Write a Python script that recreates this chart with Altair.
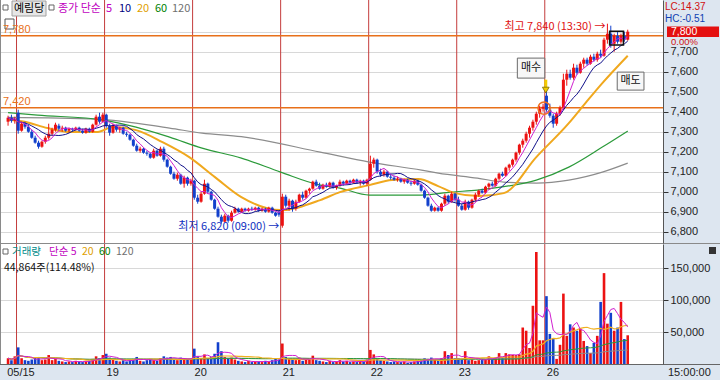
import altair as alt
import pandas as pd

FONT = "Noto Sans CJK KR"
NUMFONT = "Liberation Sans"
RED = "#ec1212"
BLUE = "#1240cc"
GRID = "#d8d8d8"
AXBG = "#dde6f0"

# ---------------- data ----------------
day_labels = ["05/15", "19", "20", "21", "22", "23", "26"]
label_idx = [-0.85, 28.5, 54.5, 80.5, 106.5, 132.5, 158.5]
day_break_idx = [2.5, 28.5, 54.5, 80.5, 106.5, 132.5, 158.5]

opens = [
    7350, 7370, 7355,
    7395, 7305, 7340, 7325, 7300, 7270, 7245, 7225, 7250, 7270, 7290, 7310, 7330,
    7315, 7320, 7305, 7315, 7310, 7320, 7305, 7295, 7315, 7300, 7335, 7375, 7350,
    7385, 7330, 7295, 7330, 7310, 7320, 7290, 7285, 7260, 7230, 7205, 7215, 7195,
    7190, 7170, 7205, 7180, 7215, 7160, 7125, 7090, 7065, 7085, 7040, 7070, 7040,
    7055, 6970, 6950, 6990, 7040, 7000, 6960, 6915, 6875, 6850, 6880, 6855, 6895,
    6915, 6900, 6915, 6905, 6915, 6910, 6920, 6905, 6915, 6900, 6920, 6895, 6900,
    6830, 6975, 6930, 6955, 6915, 6950, 6985, 6970, 7005, 7015, 7050, 7030, 7015,
    7035, 7025, 7045, 7020, 7030, 7050, 7040, 7055, 7045, 7060, 7045, 7055, 7040,
    7060, 7140, 7160, 7100, 7085, 7100, 7075, 7070, 7060, 7065, 7050, 7060, 7045,
    7040, 7055, 7035, 7005, 6970, 6930, 6905, 6920, 6905, 6940, 6980, 6950, 6990,
    6960, 6930, 6910, 6950, 6920, 6960, 6985, 7005, 6995, 7025, 7040, 7030, 7065,
    7090, 7080, 7120, 7135, 7160, 7195, 7235, 7255, 7290, 7320, 7350, 7390, 7415,
    7480, 7410, 7380, 7340, 7390, 7420, 7560, 7590, 7570, 7620, 7595, 7640, 7660,
    7640, 7675, 7660, 7690, 7680, 7760, 7790, 7740, 7780, 7750, 7780, 7760,
]
highs = [
    7380, 7385, 7375,
    7410, 7350, 7350, 7335, 7310, 7280, 7255, 7255, 7280, 7340, 7320, 7345, 7340,
    7330, 7325, 7320, 7320, 7325, 7325, 7315, 7320, 7320, 7340, 7385, 7395, 7395,
    7390, 7340, 7340, 7335, 7325, 7325, 7300, 7290, 7265, 7240, 7225, 7220, 7205,
    7195, 7215, 7210, 7225, 7225, 7165, 7130, 7100, 7095, 7090, 7080, 7075, 7065,
    7060, 6985, 7000, 7060, 7045, 7005, 6965, 6925, 6885, 6890, 6885, 6905, 6925,
    6920, 6920, 6920, 6920, 6925, 6925, 6925, 6920, 6920, 6925, 6925, 6900, 6905,
    6990, 6985, 6965, 6960, 6960, 6990, 7000, 7010, 7020, 7055, 7060, 7045, 7040,
    7045, 7050, 7050, 7035, 7060, 7055, 7060, 7060, 7065, 7065, 7060, 7060, 7065,
    7180, 7170, 7165, 7115, 7110, 7105, 7090, 7080, 7075, 7070, 7065, 7065, 7055,
    7060, 7060, 7040, 7010, 6975, 6940, 6925, 6925, 6945, 6990, 6985, 7000, 6995,
    6975, 6940, 6960, 6955, 6965, 6995, 7010, 7015, 7030, 7045, 7050, 7070, 7095,
    7100, 7125, 7140, 7165, 7200, 7240, 7265, 7300, 7330, 7360, 7400, 7430, 7440,
    7520, 7440, 7390, 7400, 7430, 7590, 7610, 7610, 7640, 7635, 7650, 7670, 7670,
    7685, 7690, 7700, 7710, 7770, 7840, 7830, 7790, 7800, 7790, 7800, 7810,
]
lows = [
    7330, 7345, 7340,
    7290, 7300, 7315, 7295, 7265, 7240, 7215, 7220, 7240, 7260, 7280, 7300, 7305,
    7300, 7300, 7295, 7300, 7305, 7300, 7290, 7290, 7295, 7295, 7330, 7340, 7345,
    7320, 7280, 7290, 7300, 7295, 7285, 7275, 7255, 7225, 7200, 7195, 7190, 7180,
    7165, 7165, 7175, 7175, 7150, 7120, 7085, 7060, 7055, 7035, 7020, 7030, 7030,
    6960, 6940, 6945, 6985, 6990, 6955, 6910, 6870, 6840, 6845, 6845, 6850, 6890,
    6895, 6895, 6900, 6900, 6905, 6905, 6900, 6900, 6895, 6895, 6890, 6875, 6875,
    6820, 6920, 6905, 6900, 6905, 6945, 6960, 6965, 6990, 7010, 7025, 7010, 7010,
    7020, 7020, 7015, 7010, 7025, 7030, 7035, 7035, 7040, 7040, 7030, 7035, 7030,
    7055, 7120, 7090, 7075, 7075, 7070, 7060, 7055, 7050, 7045, 7040, 7040, 7030,
    7035, 7030, 7000, 6965, 6925, 6900, 6900, 6900, 6900, 6930, 6940, 6945, 6950,
    6925, 6905, 6905, 6910, 6915, 6950, 6975, 6990, 6990, 7010, 7025, 7025, 7055,
    7075, 7075, 7105, 7125, 7150, 7185, 7220, 7245, 7270, 7305, 7335, 7370, 7400,
    7400, 7370, 7320, 7330, 7380, 7410, 7530, 7560, 7560, 7585, 7590, 7620, 7630,
    7635, 7650, 7650, 7670, 7675, 7740, 7720, 7700, 7740, 7740, 7750, 7755,
]
closes = [
    7370, 7355, 7365,
    7305, 7340, 7325, 7300, 7270, 7245, 7225, 7250, 7270, 7290, 7310, 7335, 7315,
    7320, 7305, 7315, 7310, 7320, 7305, 7295, 7315, 7300, 7335, 7375, 7350, 7385,
    7330, 7295, 7330, 7310, 7320, 7290, 7285, 7260, 7230, 7205, 7215, 7195, 7190,
    7170, 7205, 7180, 7215, 7160, 7125, 7090, 7065, 7085, 7040, 7070, 7040, 7055,
    6970, 6950, 6990, 7040, 7000, 6960, 6915, 6875, 6850, 6880, 6855, 6895, 6915,
    6900, 6915, 6905, 6915, 6910, 6920, 6905, 6915, 6900, 6920, 6895, 6880, 6885,
    6975, 6930, 6955, 6915, 6950, 6985, 6970, 7005, 7015, 7050, 7030, 7015, 7035,
    7025, 7045, 7020, 7030, 7050, 7040, 7055, 7045, 7060, 7045, 7055, 7040, 7060,
    7140, 7160, 7100, 7085, 7100, 7075, 7070, 7060, 7065, 7050, 7060, 7045, 7040,
    7055, 7035, 7005, 6970, 6930, 6905, 6920, 6905, 6940, 6980, 6950, 6990, 6960,
    6930, 6910, 6950, 6920, 6960, 6985, 7005, 6995, 7025, 7040, 7030, 7065, 7090,
    7080, 7120, 7135, 7160, 7195, 7235, 7255, 7290, 7320, 7350, 7390, 7415, 7425,
    7410, 7380, 7340, 7390, 7420, 7560, 7590, 7570, 7620, 7595, 7640, 7660, 7640,
    7675, 7660, 7690, 7680, 7760, 7790, 7740, 7780, 7750, 7780, 7760, 7800,
]
volumes = [
    9000, 6000, 12000,
    26000, 9000, 6000, 5000, 7000, 10000, 11000, 6000, 7000, 14000, 6000, 8000, 5000,
    4000, 3000, 4000, 3000, 5000, 4000, 3000, 4000, 5000, 8000, 12000, 9000, 14000,
    16000, 10000, 7000, 5000, 4000, 6000, 4000, 7000, 8000, 11000, 5000, 4000, 6000,
    8000, 6000, 5000, 9000, 12000, 10000, 11000, 7000, 6000, 10000, 9000, 8000, 7000,
    24000, 12000, 9000, 15000, 9000, 11000, 16000, 34000, 20000, 11000, 9000, 10000, 7000,
    5000, 4000, 3000, 5000, 3000, 4000, 4000, 3000, 5000, 4000, 6000, 8000, 7000,
    32000, 11000, 9000, 8000, 6000, 10000, 5000, 9000, 7000, 13000, 6000, 5000, 4000,
    3000, 5000, 3000, 4000, 6000, 4000, 5000, 3000, 4000, 3000, 5000, 4000, 7000,
    22000, 15000, 9000, 6000, 5000, 4000, 3000, 4000, 3000, 3000, 4000, 2000, 3000,
    4000, 5000, 6000, 9000, 8000, 10000, 7000, 6000, 9000, 20000, 14000, 17000, 9000,
    9000, 8000, 20000, 6000, 7000, 5000, 6000, 8000, 7000, 12000, 8000, 10000, 17000,
    10000, 17000, 15000, 14000, 14000, 15000, 57000, 52000, 25000, 91000, 175000, 37000, 37000,
    106000, 47000, 39000, 8000, 30000, 110000, 44000, 62000, 57000, 52000, 55000, 36000, 28000,
    17000, 33000, 44000, 97000, 142000, 63000, 80000, 52000, 57000, 97000, 39000, 44864,
]

# moving-average lines (bar index, price)
ma20_idx = [0, 4.9, 11.6, 18.6, 26.1, 31.1, 37.8, 45.6, 53.5, 61.1, 68.9, 80.5, 92.2, 98, 106.7,
            113.4, 121.2, 127, 131.9, 139.1, 146.4, 156, 165.6, 170.5, 175.5, 183]
ma20_val = [7360, 7350, 7318, 7298, 7298, 7323, 7308, 7248, 7173, 7073, 6973, 6908, 6958, 6998, 7033,
            7058, 7063, 7028, 6993, 6978, 6993, 7173, 7343, 7443, 7543, 7680]
ma60_idx = [0, 8.7, 28.2, 37.8, 47.7, 57.3, 68.9, 80.5, 92.2, 98, 106.7, 122.1, 130.8, 138.6,
            146.4, 156, 165.6, 175.5, 183]
ma60_val = [7395, 7383, 7358, 7323, 7273, 7218, 7168, 7098, 7033, 7018, 6983, 6983, 6998, 7008,
            7025, 7058, 7123, 7223, 7303]
ma120_idx = [0, 26.1, 47.7, 57.3, 68.9, 92.2, 106.7, 122.1, 127, 138.6, 146.4, 156, 165.6, 175.5, 183]
ma120_val = [7372, 7363, 7318, 7293, 7275, 7198, 7148, 7108, 7093, 7068, 7048, 7043, 7058, 7098, 7143]

ref_levels = [7780, 7420]
price_labels = [6800, 6900, 7000, 7100, 7200, 7300, 7400, 7500, 7600, 7700]
price_grid = price_labels + [7800]
vol_labels = [50000, 100000, 150000]

# ---------------- frames ----------------
n = len(closes)
direction = ["up" if c >= o else "down" for o, c in zip(opens, closes)]
candles = pd.DataFrame({"i": list(range(n)), "open": opens, "high": highs, "low": lows,
                        "close": closes, "vol": volumes, "dir": direction})
one = pd.DataFrame({"a": [0]})

xs = alt.Scale(domain=[-0.903, 191.94], nice=False, zero=False)
ps = alt.Scale(domain=[6743.5, 7958.5], range=[243, 0], nice=False, zero=False)
vs = alt.Scale(domain=[0, 187500], range=[364, 244], nice=False, zero=False)
cscale = alt.Scale(domain=["up", "down"], range=[RED, BLUE])

X = alt.X("i:Q", scale=xs, axis=None)


def rect_px(x1, x2, y1, y2, fill, stroke=None, sw=1.0):
    kw = {"fill": fill}
    if stroke:
        kw.update(stroke=stroke, strokeWidth=sw)
    return alt.Chart(one).mark_rect(**kw).encode(
        x=alt.value(x1), x2=alt.value(x2), y=alt.value(y1), y2=alt.value(y2))


def rule_px(x1, x2, y1, y2, color, sw=1.0):
    return alt.Chart(one).mark_rule(color=color, strokeWidth=sw).encode(
        x=alt.value(x1), x2=alt.value(x2), y=alt.value(y1), y2=alt.value(y2))


def text_px(s, x, y, color, size=11, align="left", font=FONT):
    return alt.Chart(one).mark_text(text=s, color=color, fontSize=size, font=font,
                                    align=align, baseline="middle").encode(
        x=alt.value(x), y=alt.value(y))


def sampled_line(idx, vals, color, width):
    df = pd.DataFrame({"i": idx, "v": vals})
    return alt.Chart(df).mark_line(color=color, strokeWidth=width, interpolate="monotone").encode(
        x=X, y=alt.Y("v:Q", scale=ps, axis=None))


def window_line(field, frame, color, width, scale):
    return alt.Chart(candles).transform_window(
        m=f"mean({field})", frame=[-(frame - 1), 0], sort=[alt.SortField("i")]
    ).mark_line(color=color, strokeWidth=width).encode(x=X, y=alt.Y("m:Q", scale=scale, axis=None))


layers = []
# backgrounds
layers.append(rect_px(663, 720, 0, 364, AXBG))
layers.append(rect_px(0, 720, 364, 380, AXBG))

# grids
layers.append(alt.Chart(one).mark_point(opacity=0).encode(
    y=alt.Y("a:Q", scale=ps, axis=alt.Axis(orient="right", values=price_grid, grid=True, gridColor=GRID,
                                           labels=False, ticks=False, domain=False, title=None, zindex=0))))
layers.append(alt.Chart(one).mark_point(opacity=0).encode(
    y=alt.Y("a:Q", scale=vs, axis=alt.Axis(orient="right", values=vol_labels, grid=True, gridColor=GRID,
                                           labels=False, ticks=False, domain=False, title=None, zindex=0))))

# day separators
layers.append(alt.Chart(pd.DataFrame({"i": day_break_idx})).mark_rule(color="#c43c3c", strokeWidth=1).encode(
    x=X, y=alt.value(0), y2=alt.value(364)))

# reference levels
layers.append(alt.Chart(pd.DataFrame({"v": ref_levels})).mark_rule(color="#e8701a", strokeWidth=1.5).encode(
    y=alt.Y("v:Q", scale=ps, axis=None), x=alt.value(0), x2=alt.value(663)))

# long moving averages
layers.append(sampled_line(ma120_idx, ma120_val, "#8c8c8c", 1.2))
layers.append(sampled_line(ma60_idx, ma60_val, "#2b9a3a", 1.2))
layers.append(sampled_line(ma20_idx, ma20_val, "#f0a81e", 2))

# candles
layers.append(alt.Chart(candles).mark_rule(strokeWidth=1).encode(
    x=X, y=alt.Y("low:Q", scale=ps, axis=None), y2="high:Q",
    color=alt.Color("dir:N", scale=cscale, legend=None)))
layers.append(alt.Chart(candles).mark_bar(size=3).encode(
    x=X, y=alt.Y("open:Q", scale=ps, axis=None), y2="close:Q",
    color=alt.Color("dir:N", scale=cscale, legend=None)))

# short moving averages
layers.append(window_line("close", 10, "#10108a", 1, ps))
layers.append(window_line("close", 5, "#d020d0", 1, ps))

# volume
layers.append(alt.Chart(candles).mark_bar(size=2.6).encode(
    x=X, y=alt.Y("vol:Q", scale=vs, axis=None),
    color=alt.Color("dir:N", scale=cscale, legend=None)))
layers.append(window_line("vol", 120, "#8c8c8c", 1, vs))
layers.append(window_line("vol", 60, "#2b9a3a", 1, vs))
layers.append(window_line("vol", 20, "#f0b020", 1.2, vs))
layers.append(window_line("vol", 5, "#d020d0", 1, vs))

# frame lines
layers.append(rule_px(0, 720, 243.5, 243.5, "#8a8a8a"))
layers.append(rule_px(0.5, 0.5, 0, 364, "#8a8a8a"))
layers.append(rule_px(0, 720, 364.5, 364.5, "#666666"))

# axes with labels
fmt = "format(datum.value, ',')"
layers.append(alt.Chart(one).mark_point(opacity=0).encode(
    y=alt.Y("a:Q", scale=ps, axis=alt.Axis(orient="right", values=price_labels, labelExpr=fmt, grid=False,
                                           tickSize=5, tickColor="#333", domainColor="#555",
                                           labelFont=NUMFONT, labelFontSize=11, labelColor="#222",
                                           labelPadding=2, title=None, zindex=2))))
layers.append(alt.Chart(one).mark_point(opacity=0).encode(
    y=alt.Y("a:Q", scale=vs, axis=alt.Axis(orient="right", values=vol_labels, labelExpr=fmt, grid=False,
                                           tickSize=5, tickColor="#333", domainColor="#555",
                                           labelFont=NUMFONT, labelFontSize=11, labelColor="#222",
                                           labelPadding=2, title=None, zindex=2))))
# date labels along the bottom strip
layers.append(alt.Chart(pd.DataFrame({"i": label_idx, "t": day_labels})).mark_text(
    fontSize=11, font=NUMFONT, color="#222", align="left", baseline="middle", dx=2).encode(
    x=X, y=alt.value(372.5), text="t:N"))
layers.append(text_px("15:00:00", 668, 372.5, "#222", font=NUMFONT))

# header (price panel)
layers.append(rect_px(3, 8, 5, 10, "#ffffff", "#666"))
layers.append(rect_px(12, 46, 1, 16, "#e6e6e6", "#a0a0a0"))
layers.append(text_px("예림당", 14, 8.5, "#000000"))
layers.append(rect_px(49, 54, 5, 10, "#ffffff", "#666"))
for s, x, c in [("종가 단순", 58, "#c000c0"), ("5", 106, "#c000c0"), ("10", 119, "#000080"),
                ("20", 137, "#e0a000"), ("60", 155, "#008000"), ("120", 172, "#707070")]:
    layers.append(text_px(s, x, 8.5, c))
layers.append(rect_px(5, 14, 19, 29, "#ffffff", "#555"))

# reference level labels
for v in ref_levels:
    layers.append(alt.Chart(pd.DataFrame({"v": [v], "t": [f"{v:,}"]})).mark_text(
        color="#e8701a", fontSize=11, font=NUMFONT, align="left", baseline="bottom", dy=-1).encode(
        x=alt.value(3), y=alt.Y("v:Q", scale=ps, axis=None), text="t:N"))

# volume header
layers.append(rect_px(3, 8, 249, 254, "#ffffff", "#666"))
for s, x, c in [("거래량", 12, "#008b8b"), ("단순 5", 49, "#c000c0"), ("20", 82, "#e0a000"),
                ("60", 99, "#008000"), ("120", 116, "#707070")]:
    layers.append(text_px(s, x, 252, c, size=10.5))
layers.append(text_px("44,864주(114.48%)", 4, 268, "#111", size=10.5))

# right axis texts
layers.append(text_px("LC:14.37", 665, 7, "#d01010", size=10, font=NUMFONT))
layers.append(text_px("HC:-0.51", 665, 18.5, "#1040b0", size=10, font=NUMFONT))
last = pd.DataFrame({"i": [n - 1], "v": [closes[-1]], "t": [f"{closes[-1]:,}"], "hi": [closes[-1] + 26],
                     "lo": [closes[-1] - 26]})
layers.append(alt.Chart(last).mark_rect(fill="#e41010").encode(
    x=alt.value(667), x2=alt.value(719), y=alt.Y("hi:Q", scale=ps, axis=None), y2="lo:Q"))
layers.append(alt.Chart(last).mark_text(color="white", fontSize=10.5, font=NUMFONT, align="left",
                                        baseline="middle").encode(
    x=alt.value(671), y=alt.Y("v:Q", scale=ps, axis=None), text="t:N"))
layers.append(alt.Chart(last).mark_text(text="0.00%", color="#d01010", fontSize=9.5, font=NUMFONT,
                                        align="left", baseline="middle", dy=10.5).encode(
    x=alt.value(671), y=alt.Y("v:Q", scale=ps, axis=None)))
layers.append(rect_px(709, 716, 247, 254, "#333"))

# annotations: high / low
hi_i = max(range(n), key=lambda k: highs[k])
lo_i = min(range(n), key=lambda k: lows[k])
hl = pd.DataFrame({"i": [hi_i], "v": [highs[hi_i]], "t": [f"최고 {highs[hi_i]:,} (13:30) →"]})
layers.append(alt.Chart(hl).mark_text(color="#e01010", fontSize=11, font=FONT, align="right",
                                      baseline="middle", dx=-2, dy=3).encode(
    x=X, y=alt.Y("v:Q", scale=ps, axis=None), text="t:N"))
ll = pd.DataFrame({"i": [lo_i], "v": [lows[lo_i]], "t": [f"최저 {lows[lo_i]:,} (09:00) →"]})
layers.append(alt.Chart(ll).mark_text(color="#1030c0", fontSize=11, font=FONT, align="right",
                                      baseline="middle", dx=-3, dy=-1).encode(
    x=X, y=alt.Y("v:Q", scale=ps, axis=None), text="t:N"))

# buy / sell signal annotations
buy_box = pd.DataFrame({"x1": [150.4], "x2": [158.5], "y1": [7668], "y2": [7568]})
layers.append(alt.Chart(buy_box).mark_rect(fill="#f7f7f7", stroke="#6a6a6a", strokeWidth=1).encode(
    x=alt.X("x1:Q", scale=xs, axis=None), x2="x2:Q", y=alt.Y("y1:Q", scale=ps, axis=None), y2="y2:Q"))
layers.append(alt.Chart(pd.DataFrame({"i": [154.45], "v": [7618]})).mark_text(
    text="매수", fontSize=11, font=FONT, color="#111", baseline="middle").encode(
    x=X, y=alt.Y("v:Q", scale=ps, axis=None)))
arrow = pd.DataFrame({"i": [158.8], "v1": [7560], "v2": [7520]})
layers.append(alt.Chart(arrow).mark_rule(color="#f2cc00", strokeWidth=3).encode(
    x=X, y=alt.Y("v1:Q", scale=ps, axis=None), y2="v2:Q"))
layers.append(alt.Chart(pd.DataFrame({"i": [158.8], "v": [7508]})).mark_point(
    shape="triangle-down", size=45, filled=True, fill="#f2cc00", stroke="#7a6a00", strokeWidth=0.8,
    opacity=1).encode(x=X, y=alt.Y("v:Q", scale=ps, axis=None)))
layers.append(alt.Chart(pd.DataFrame({"i": [158.3], "v": [7418]})).mark_point(
    shape="circle", size=150, filled=False, stroke="#f07020", strokeWidth=1.5, opacity=1).encode(
    x=X, y=alt.Y("v:Q", scale=ps, axis=None)))
layers.append(alt.Chart(pd.DataFrame({"i": [179.7], "v": [7768]})).mark_point(
    shape="square", size=190, filled=False, stroke="#111", strokeWidth=1.6, opacity=1).encode(
    x=X, y=alt.Y("v:Q", scale=ps, axis=None)))
sell_box = pd.DataFrame({"x1": [179.9], "x2": [187.8], "y1": [7598], "y2": [7508]})
layers.append(alt.Chart(sell_box).mark_rect(fill="#f7f7f7", stroke="#6a6a6a", strokeWidth=1).encode(
    x=alt.X("x1:Q", scale=xs, axis=None), x2="x2:Q", y=alt.Y("y1:Q", scale=ps, axis=None), y2="y2:Q"))
layers.append(alt.Chart(pd.DataFrame({"i": [183.85], "v": [7553]})).mark_text(
    text="매도", fontSize=11, font=FONT, color="#111", baseline="middle").encode(
    x=X, y=alt.Y("v:Q", scale=ps, axis=None)))

chart = alt.layer(*layers).resolve_scale(y="independent").properties(
    width=663, height=364,
    padding={"left": 0, "top": 0, "right": 57, "bottom": 16},
    autosize=alt.AutoSizeParams(type="none"),
    background="white",
).configure_view(stroke=None)

chart.save("out.html", embed_options={"renderer": "svg", "actions": False})
